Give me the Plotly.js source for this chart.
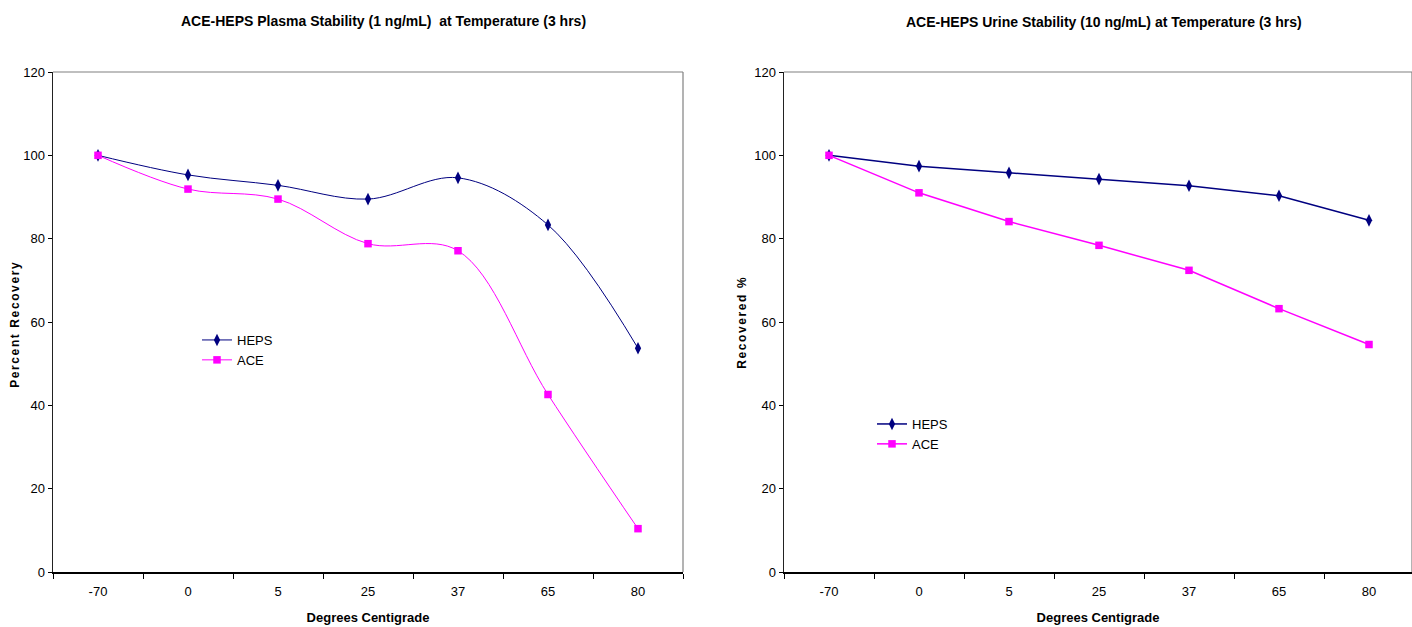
<!DOCTYPE html>
<html>
<head>
<meta charset="utf-8">
<script src="https://cdn.plot.ly/plotly-3.0.1.min.js"></script>
<style>
  html, body { margin: 0; padding: 0; background: #fff; }
  #chart { width: 1412px; height: 627px; }
</style>
</head>
<body>
<div id="chart"></div>
<script>
// ---- data ----
const categories = ["-70", "0", "5", "25", "37", "65", "80"];
const plasmaHEPS = [100, 95.3, 92.8, 89.5, 94.6, 83.3, 53.7];
const plasmaACE  = [100, 91.9, 89.5, 78.8, 77.1, 42.6, 10.4];
const urineHEPS  = [100, 97.4, 95.8, 94.3, 92.7, 90.3, 84.4];
const urineACE   = [100, 91.0, 84.1, 78.4, 72.4, 63.2, 54.6];
const yTicks = [0, 20, 40, 60, 80, 100, 120];

const W = 1412, H = 627;
const narrow = "Liberation Sans Narrow, Arial Narrow, sans-serif";
const NAVY = "#000080", MAG = "#FF00FF";

const traces = [
  {x: categories, y: plasmaHEPS, name: "HEPS", type: "scatter", mode: "lines+markers",
   xaxis: "x", yaxis: "y", legend: "legend",
   line: {color: NAVY, width: 1, shape: "spline", smoothing: 1},
   marker: {symbol: "diamond-tall", size: 9, color: NAVY}},
  {x: categories, y: plasmaACE, name: "ACE", type: "scatter", mode: "lines+markers",
   xaxis: "x", yaxis: "y", legend: "legend",
   line: {color: MAG, width: 1, shape: "spline", smoothing: 1},
   marker: {symbol: "square", size: 7.5, color: MAG}},
  {x: categories, y: urineHEPS, name: "HEPS", type: "scatter", mode: "lines+markers",
   xaxis: "x2", yaxis: "y2", legend: "legend2",
   line: {color: NAVY, width: 1.5},
   marker: {symbol: "diamond-tall", size: 9, color: NAVY}},
  {x: categories, y: urineACE, name: "ACE", type: "scatter", mode: "lines+markers",
   xaxis: "x2", yaxis: "y2", legend: "legend2",
   line: {color: MAG, width: 1.5},
   marker: {symbol: "square", size: 7.5, color: MAG}}
];

const yBottom = (H - 572) / H, yTop = (H - 72) / H;

function xax(domain, range, anchor) {
  return {
    domain: domain, type: "category", range: range, anchor: anchor,
    showgrid: false, zeroline: false,
    showline: true, linecolor: "#000", linewidth: 2,
    ticks: "outside", ticklen: 5, tickcolor: "#000", tickwidth: 1,
    tickson: "boundaries", ticklabelstandoff: 6,
    tickfont: {family: narrow, size: 13, color: "#000"},
    title: {text: "<b>Degrees Centigrade</b>", font: {family: narrow, size: 13, color: "#000"}, standoff: 15},
    fixedrange: true
  };
}
function yax(anchor) {
  return {
    domain: [yBottom, yTop], anchor: anchor, range: [0, 120],
    tickvals: yTicks, ticktext: yTicks.map(String),
    showgrid: false, zeroline: false,
    showline: true, linecolor: "#222", linewidth: 1.5,
    ticks: "outside", ticklen: 4, tickcolor: "#000", tickwidth: 1,
    tickfont: {family: narrow, size: 13, color: "#000"},
    fixedrange: true
  };
}

const xa1 = xax([53 / W, 683 / W], [-0.5, 6.5], "y");
const xa2 = xax([784 / W, 1], [-0.5, 6.5 - 2 / 90], "y2");
const ya1 = yax("x");
const ya2 = yax("x2");

const border = (xr, yr) => [
  {type: "line", xref: xr + " domain", yref: yr + " domain", x0: 0, x1: 1, y0: 1, y1: 1,
   line: {color: "#808080", width: 1.2}},
  {type: "line", xref: xr + " domain", yref: yr + " domain", x0: 1, x1: 1, y0: 0, y1: 1,
   line: {color: "#808080", width: 1.2}}
];

const legendBase = {
  font: {family: narrow, size: 13, color: "#000"},
  bgcolor: "rgba(0,0,0,0)", borderwidth: 0,
  itemwidth: 30, tracegroupgap: 0,
  xanchor: "left", yanchor: "top", itemclick: false, itemdoubleclick: false
};

const yTitleFont = {family: "Liberation Sans, Arial, sans-serif", size: 12, color: "#000"};

const layout = {
  width: W, height: H,
  margin: {l: 0, r: 0, t: 0, b: 0},
  paper_bgcolor: "#fff", plot_bgcolor: "#fff",
  showlegend: true,
  xaxis: xa1, yaxis: ya1, xaxis2: xa2, yaxis2: ya2,
  legend: Object.assign({}, legendBase, {x: 197 / W, y: (H - 325) / H}),
  legend2: Object.assign({}, legendBase, {x: 872 / W, y: (H - 409) / H}),
  shapes: border("x", "y").concat(border("x2", "y2")),
  annotations: [
    {text: "<b>ACE-HEPS Plasma Stability (1 ng/mL)  at Temperature (3 hrs)</b>",
     xref: "paper", yref: "paper", x: 383 / W, y: (H - 21) / H,
     xanchor: "center", yanchor: "middle", showarrow: false,
     font: {family: narrow, size: 14, color: "#000"}},
    {text: "<b>ACE-HEPS Urine Stability (10 ng/mL) at Temperature (3 hrs)</b>",
     xref: "paper", yref: "paper", x: 1104 / W, y: (H - 22) / H,
     xanchor: "center", yanchor: "middle", showarrow: false,
     font: {family: narrow, size: 14, color: "#000"}},
    {text: "<b>Percent Recovery</b>", textangle: -90,
     xref: "paper", yref: "paper", x: 15 / W, y: (H - 324) / H,
     xanchor: "center", yanchor: "middle", showarrow: false, font: yTitleFont},
    {text: "<b>Recovered %</b>", textangle: -90,
     xref: "paper", yref: "paper", x: 742 / W, y: (H - 322) / H,
     xanchor: "center", yanchor: "middle", showarrow: false, font: yTitleFont}
  ]
};

Plotly.newPlot("chart", traces, layout, {displayModeBar: false, staticPlot: true}).then(() => {
  document.querySelectorAll("#chart .annotation-text").forEach(t => {
    const s = t.textContent;
    if (s === "Percent Recovery" || s === "Recovered %") {
      t.style.letterSpacing = "1.6px";
    }
  });
});
</script>
</body>
</html>
